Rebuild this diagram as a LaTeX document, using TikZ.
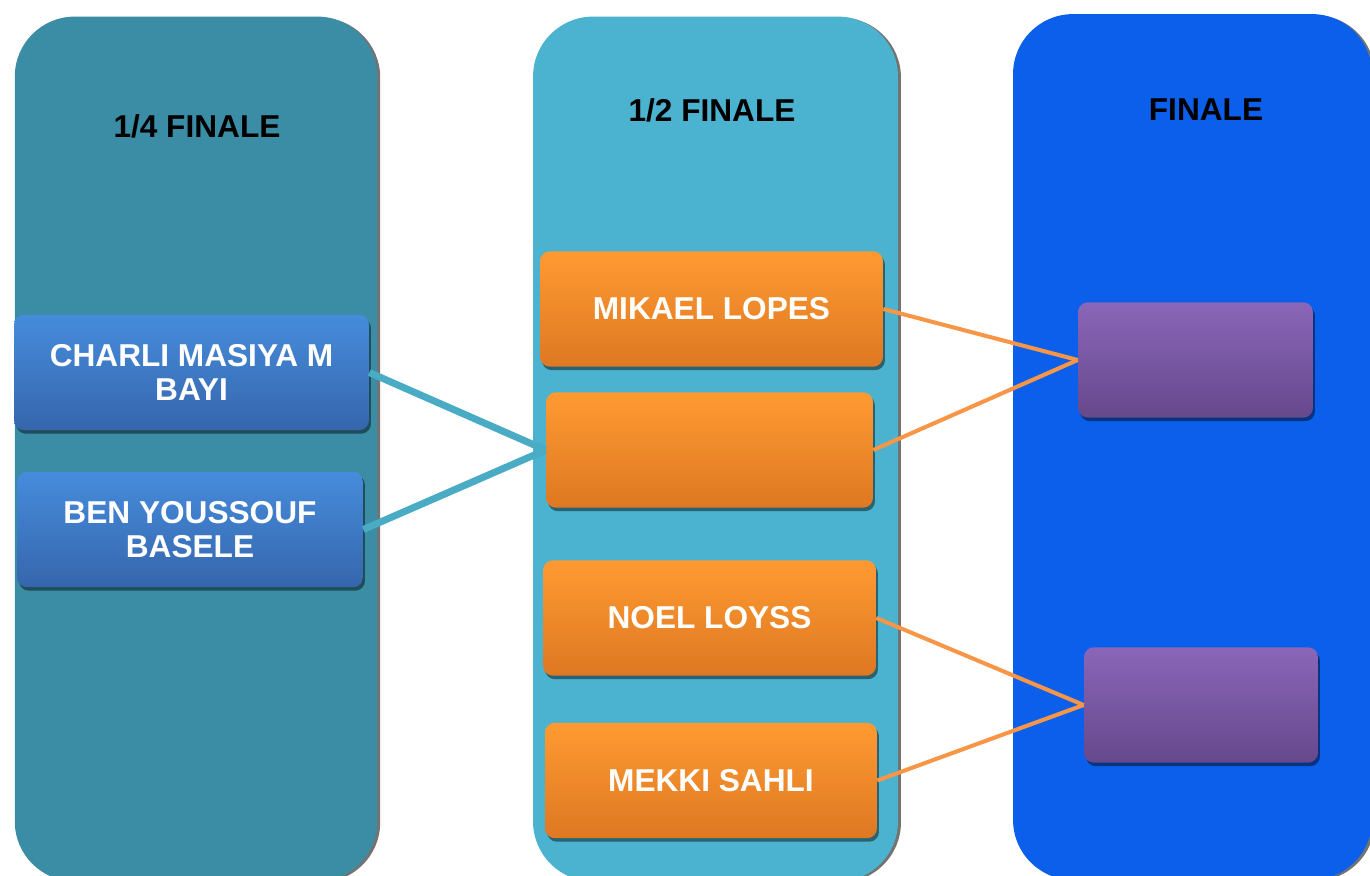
\documentclass[tikz,border=0pt]{standalone}
\usepackage{fontspec}
\setmainfont{Liberation Sans}
\usetikzlibrary{shadows}
\definecolor{colA}{HTML}{3A8DA4}
\definecolor{colB}{HTML}{4BB3D0}
\definecolor{colC}{HTML}{0B5FEB}
\definecolor{teal line}{HTML}{4AABC4}
\definecolor{orange line}{HTML}{F79646}
\tikzset{
  column/.style={rounded corners=1.2cm, inner sep=0, minimum height=17.3cm, minimum width=7.25cm,
    drop shadow={shadow xshift=0.06cm, shadow yshift=-0.02cm, opacity=0.55, fill=black}},
  title/.style={font=\fontsize{18}{19}\selectfont\bfseries, text=black},
  player/.style={rounded corners=0.2cm, inner sep=0, minimum height=2.31cm, align=center,
    font=\fontsize{18}{19}\selectfont\bfseries, text=white,
    drop shadow={shadow xshift=0.04cm, shadow yshift=-0.07cm, opacity=0.45, fill=black}},
  quarter/.style={player, top color={rgb,255:red,70;green,140;blue,220}, bottom color={rgb,255:red,54;green,102;blue,172}},
  half/.style={player, top color={rgb,255:red,255;green,154;blue,50}, bottom color={rgb,255:red,222;green,120;blue,34}},
  final/.style={player, top color={rgb,255:red,138;green,102;blue,184}, bottom color={rgb,255:red,102;green,72;blue,140}},
}
\begin{document}
\begin{tikzpicture}[x=0.02cm, y=-0.02cm]
\useasboundingbox (0,0) rectangle (1370,876);
\clip (0,0) rectangle (1370,876);
% columns
\node[column, fill=colA] (col1) at (196,449){};
\node[column, fill=colB, minimum width=7.3cm] (col2) at (715.5,449){};
\node[column, fill=colC, minimum width=7.18cm, minimum height=17.32cm] (col3) at (1192.5,447){};
\node[title] (t1) at (197,126){1/4 FINALE};
\node[title] (t2) at (712,110){1/2 FINALE};
\node[title] (t3) at (1206,110){FINALE};
% quarter finals
\node[quarter, minimum width=7.1cm] (charli) at (191.5,372.5){CHARLI MASIYA M\\BAYI};
\node[quarter, minimum width=6.92cm] (ben) at (190,529.5){BEN YOUSSOUF\\BASELE};
% semi finals
\node[half, minimum width=6.86cm] (mikael) at (711.5,309){MIKAEL LOPES};
\node[half, minimum width=6.54cm] (demi) at (709.5,450){};
\node[half, minimum width=6.66cm] (noel) at (709.5,618){NOEL LOYSS};
\node[half, minimum width=6.64cm] (mekki) at (711,780.5){MEKKI SAHLI};
% finals
\node[final, minimum width=4.7cm] (fin1) at (1195.5,360){};
\node[final, minimum width=4.68cm] (fin2) at (1201,705){};
\draw[teal line, line width=4pt](charli.east) -- (demi.west);
\draw[teal line, line width=4pt](ben.east) -- (demi.west);
\draw[orange line, line width=2.3pt](mikael.east) -- (fin1.west);
\draw[orange line, line width=2.3pt](demi.east) -- (fin1.west);
\draw[orange line, line width=2.3pt](noel.east) -- (fin2.west);
\draw[orange line, line width=2.3pt](mekki.east) -- (fin2.west);
\end{tikzpicture}
\end{document}
